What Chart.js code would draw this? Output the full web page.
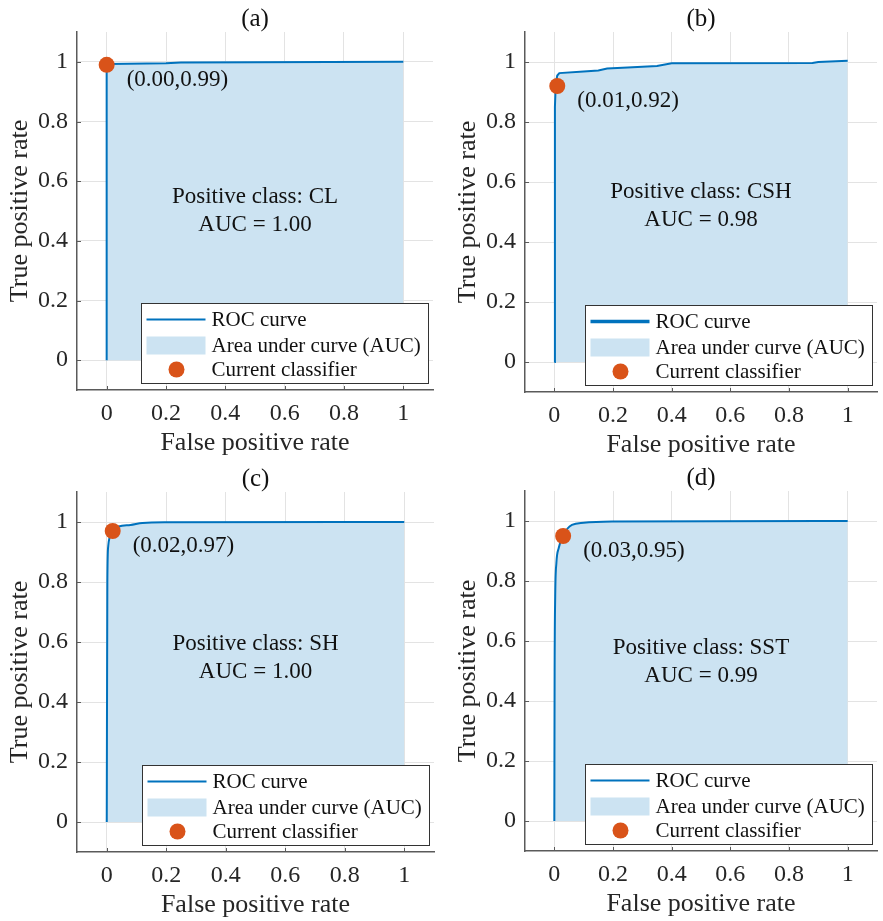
<!DOCTYPE html>
<html>
<head>
<meta charset="utf-8">
<script src="https://cdn.jsdelivr.net/npm/chart.js@4.4.1/dist/chart.umd.min.js"></script>
<style>
  html, body { margin: 0; padding: 0; background: #fff; overflow: hidden; width: 883px; height: 921px; }
  canvas { position: absolute; }
</style>
</head>
<body>
<canvas id="rocA" width="441" height="460" style="left:0;top:0"></canvas>
<canvas id="rocB" width="437" height="462" style="left:448px;top:0"></canvas>
<canvas id="rocC" width="442" height="462" style="left:0;top:460px"></canvas>
<canvas id="rocD" width="437" height="462" style="left:448px;top:459px"></canvas>
<script>
// ── data ──
const tickValues = [0, 0.2, 0.4, 0.6, 0.8, 1];
const panelTitles = ['(a)', '(b)', '(c)', '(d)'];
const positiveClasses = ['CL', 'CSH', 'SH', 'SST'];
const aucValues = [1.00, 0.98, 1.00, 0.99];
const legendLabels = ['ROC curve', 'Area under curve (AUC)', 'Current classifier'];

const fprA = [0, 0, 0.005, 0.2, 0.25, 1];
const tprA = [0, 0.985, 0.993, 0.995, 0.998, 1];
const fprB = [0, 0.002, 0.005, 0.01, 0.017, 0.1, 0.15, 0.18, 0.25, 0.35, 0.4, 0.88, 0.9, 1];
const tprB = [0, 0.85, 0.93, 0.955, 0.963, 0.968, 0.972, 0.978, 0.982, 0.987, 0.996, 0.997, 1, 1.004];
const fprC = [0, 0.002, 0.005, 0.01, 0.02, 0.04, 0.08, 0.12, 0.2, 1];
const tprC = [0, 0.8, 0.92, 0.95, 0.97, 0.985, 0.99, 0.997, 0.999, 1];
const fprD = [0, 0.001, 0.003, 0.007, 0.015, 0.03, 0.045, 0.06, 0.1, 0.2, 1];
const tprD = [0, 0.5, 0.75, 0.86, 0.91, 0.95, 0.975, 0.987, 0.994, 0.998, 1];

const classifierFpr = [0.00, 0.01, 0.02, 0.03];
const classifierTpr = [0.99, 0.92, 0.97, 0.95];
const noteY = [0.5, 0.52, 0.547, 0.53];

// ── styles ──
const SERIF = "'Liberation Serif', 'Times New Roman', serif";
const BLUE = '#0072BD';
const FILL = '#CCE3F2';
const ORANGE = '#D95319';
const GRID = '#E3E3E3';
const AXIS = '#5A5A5A';
const INK = '#262626';

// ticks inside the axes, note text, data tip and boxed legend (MATLAB look)
const panelDecor = {
  id: 'panelDecor',
  afterDatasetsDraw(chart, args, opts) {
    const { ctx, chartArea: a, scales: { x, y } } = chart;
    ctx.save();
    ctx.strokeStyle = AXIS;
    ctx.lineWidth = 1;
    tickValues.forEach(v => {
      const px = Math.round(x.getPixelForValue(v)) + 0.5;
      ctx.beginPath(); ctx.moveTo(px, a.bottom); ctx.lineTo(px, a.bottom - 4); ctx.stroke();
      const py = Math.round(y.getPixelForValue(v)) + 0.5;
      ctx.beginPath(); ctx.moveTo(a.left, py); ctx.lineTo(a.left + 4, py); ctx.stroke();
    });

    ctx.fillStyle = '#111';
    ctx.font = `23px ${SERIF}`;
    ctx.textAlign = 'center';
    ctx.textBaseline = 'middle';
    const cx = x.getPixelForValue(0.5);
    const cy = y.getPixelForValue(opts.noteY);
    ctx.fillText(`Positive class: ${opts.cls}`, cx, cy - 14);
    ctx.fillText(`AUC = ${opts.auc.toFixed(2)}`, cx, cy + 14);

    const mx = x.getPixelForValue(opts.fpr);
    const my = y.getPixelForValue(opts.tpr);
    ctx.textAlign = 'left';
    ctx.fillText(`(${opts.fpr.toFixed(2)},${opts.tpr.toFixed(2)})`, mx + 20, my + 15);

    // legend box
    const w = 287, h = 80;
    const bx = Math.round(a.right - 5 - w) + 0.5;
    const by = Math.round(a.bottom - 7 - h) + 0.5;
    ctx.fillStyle = '#fff';
    ctx.fillRect(bx, by, w, h);
    ctx.strokeStyle = '#333';
    ctx.strokeRect(bx, by, w, h);
    const rows = [by + 16, by + 42, by + 66];
    ctx.strokeStyle = BLUE;
    ctx.lineWidth = opts.legendLine;
    ctx.beginPath(); ctx.moveTo(bx + 5, rows[0]); ctx.lineTo(bx + 64, rows[0]); ctx.stroke();
    ctx.fillStyle = FILL;
    ctx.fillRect(bx + 5, rows[1] - 9, 59, 18);
    ctx.fillStyle = ORANGE;
    ctx.beginPath(); ctx.arc(bx + 35, rows[2], 8, 0, Math.PI * 2); ctx.fill();
    ctx.fillStyle = '#111';
    ctx.font = `21px ${SERIF}`;
    legendLabels.forEach((t, i) => ctx.fillText(t, bx + 70, rows[i] + 1));
    ctx.restore();
  }
};

function initRoc(id, i, fpr, tpr, p) {
  const canvas = document.getElementById(id);
  new Chart(canvas, {
    type: 'line',
    data: {
      datasets: [
        {
          data: [{ x: classifierFpr[i], y: classifierTpr[i] }],
          showLine: false,
          pointRadius: 8,
          pointBackgroundColor: ORANGE,
          pointBorderWidth: 0,
          order: 0
        },
        {
          data: fpr.map((v, k) => ({ x: v, y: tpr[k] })),
          borderColor: BLUE,
          borderWidth: 2,
          backgroundColor: FILL,
          fill: 'origin',
          pointRadius: 0,
          tension: 0,
          cubicInterpolationMode: p.smooth ? 'monotone' : 'default',
          order: 1
        }
      ]
    },
    options: {
      responsive: false,
      animation: false,
      events: [],
      layout: { padding: { left: 0, right: p.padRight, top: 0, bottom: 0 } },
      plugins: {
        legend: { display: false },
        tooltip: { enabled: false },
        title: {
          display: true,
          text: panelTitles[i],
          fullSize: false,
          color: '#111',
          font: { family: SERIF, size: 25, weight: 'normal', lineHeight: 1 },
          padding: { top: 7, bottom: 0 }
        },
        panelDecor: {
          cls: positiveClasses[i],
          auc: aucValues[i],
          fpr: classifierFpr[i],
          tpr: classifierTpr[i],
          noteY: noteY[i],
          legendLine: p.legendLine
        }
      },
      scales: {
        x: {
          type: 'linear',
          min: -0.1,
          max: 1.1,
          afterBuildTicks: s => { s.ticks = tickValues.map(v => ({ value: v })); },
          afterFit: s => { s.height = 70; },
          grid: { color: GRID, drawTicks: false },
          border: { color: AXIS, width: 1.5 },
          ticks: { color: INK, padding: 9, font: { family: SERIF, size: 24 }, callback: v => String(v) },
          title: {
            display: true, text: 'False positive rate', color: INK,
            font: { family: SERIF, size: 26 }, padding: { top: 0, bottom: 1.4 }
          }
        },
        y: {
          type: 'linear',
          min: -0.1,
          max: 1.1,
          afterBuildTicks: s => { s.ticks = tickValues.map(v => ({ value: v })); },
          afterFit: s => { s.width = 77; },
          grid: { color: GRID, drawTicks: false },
          border: { color: AXIS, width: 1.5 },
          ticks: { color: INK, padding: 9, font: { family: SERIF, size: 24 }, callback: v => String(v) },
          title: {
            display: true, text: 'True positive rate', color: INK,
            font: { family: SERIF, size: 26 }, padding: { top: 4.4, bottom: 0 }
          }
        }
      }
    },
    plugins: [panelDecor]
  });
}

initRoc('rocA', 0, fprA, tprA, { padRight: 6, legendLine: 2, smooth: false });
initRoc('rocB', 1, fprB, tprB, { padRight: 0, legendLine: 3.5, smooth: false });
initRoc('rocC', 2, fprC, tprC, { padRight: 6, legendLine: 2, smooth: true });
initRoc('rocD', 3, fprD, tprD, { padRight: 0, legendLine: 2, smooth: true });
</script>
</body>
</html>
